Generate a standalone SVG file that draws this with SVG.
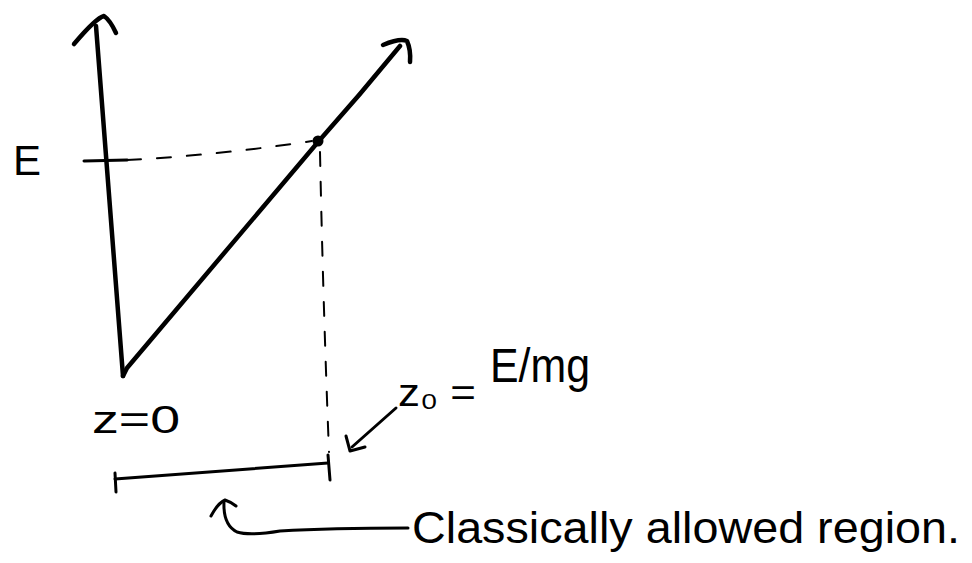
<svg xmlns="http://www.w3.org/2000/svg" width="972" height="563" viewBox="0 0 972 563">
<style>
.ink{fill:none;stroke:#000;stroke-linecap:round;stroke-linejoin:round}
.thick{stroke-width:4.5}
.med{stroke-width:3}
.dash{stroke-width:2;stroke-dasharray:14 16}
.hand{font-family:"Liberation Sans","DejaVu Sans",sans-serif;fill:#000}
</style>
<rect width="972" height="563" fill="#fff"/>
<g id="axis">
<path class="ink thick" d="M123,376 L96,26"/>
<path class="ink thick" d="M74,44 Q96,18 104,16 Q110,20 116,33"/>
</g>
<g id="potential">
<path class="ink thick" d="M123,376 L127,368 L318,142 Q360,95 400,46"/>
<path class="ink thick" d="M383,45 Q400,38 407,41 Q411,50 410,62"/>
<circle cx="318" cy="141" r="5.5" fill="#000"/>
</g>
<g id="connectors">
<path class="ink med" d="M84,161 L127,160"/>
<path class="ink dash" d="M127,160 Q220,155 312,141"/>
<path class="ink dash" d="M320,152 Q323,300 329,452"/>
</g>
<g id="energy-label">
<text class="hand" x="13" y="175" font-size="42">E</text>
</g>
<g id="interval">
<path class="ink med" d="M115,479 L328,463"/>
<path class="ink med" d="M115,473 L116,492"/>
<path class="ink med" d="M328,455 L330,480"/>
</g>
<g id="z0-label">
<text class="hand" x="92" y="433" font-size="38" textLength="88" lengthAdjust="spacingAndGlyphs">z=0</text>
</g>
<g id="zo-label">
<path class="ink med" d="M396,408 L352,447"/>
<path class="ink med" d="M346,436 L350,451 L365,447"/>
<text class="hand" x="398" y="406" font-size="38" textLength="78" lengthAdjust="spacingAndGlyphs">z₀ =</text>
<text class="hand" x="490" y="382" font-size="48" textLength="100" lengthAdjust="spacingAndGlyphs">E/mg</text>
</g>
<g id="region-label">
<path class="ink med" d="M408,528 Q330,528 280,531 Q250,536 237,532 Q223,525 224,502"/>
<path class="ink med" d="M211,516 Q218,503 225,500 Q231,502 236,506"/>
<text class="hand" x="412" y="543" font-size="44" textLength="548" lengthAdjust="spacingAndGlyphs">Classically allowed region.</text>
</g>
</svg>
